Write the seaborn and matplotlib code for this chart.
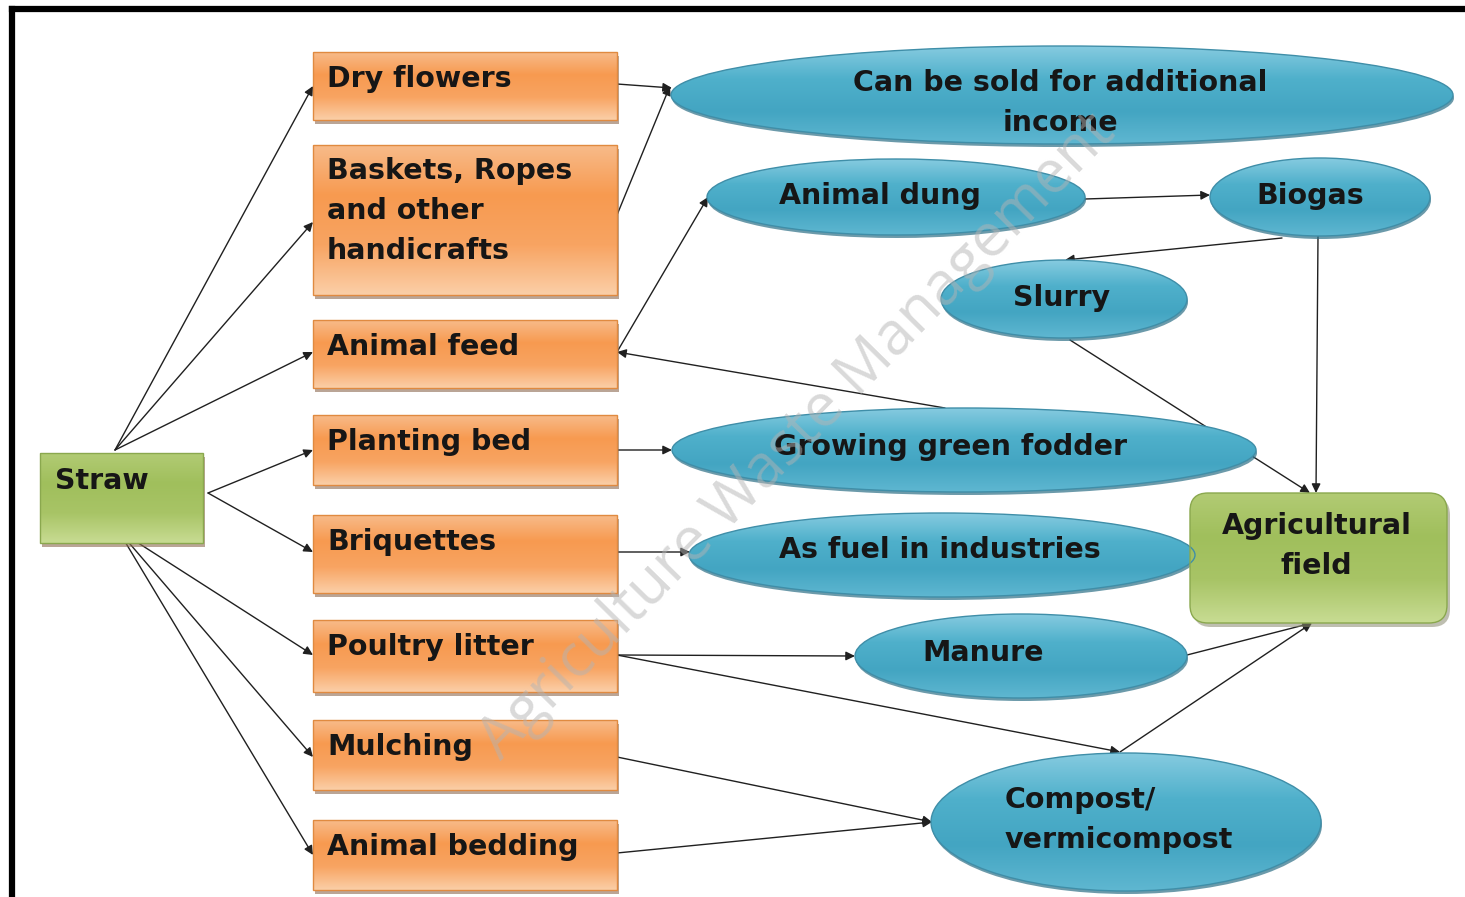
import numpy as np
import matplotlib
matplotlib.use("Agg")
import matplotlib.pyplot as plt
import seaborn as sns
from matplotlib.patches import Rectangle, Ellipse, FancyBboxPatch
from matplotlib.colors import LinearSegmentedColormap

sns.set_theme(style="white")
plt.rcParams['font.family'] = ['DejaVu Sans']

# ---------------- data ----------------
source_label = "Straw"
use_labels = ["Dry flowers", "Baskets, Ropes\nand other\nhandicrafts", "Animal feed",
              "Planting bed", "Briquettes", "Poultry litter", "Mulching", "Animal bedding"]
product_labels = ["Can be sold for additional\nincome", "Animal dung", "Biogas", "Slurry",
                  "Growing green fodder", "As fuel in industries", "Manure",
                  "Compost/\nvermicompost"]
sink_label = "Agricultural\nfield"
watermark = "Agriculture Waste Management"

# ---------------- layout (pixel space) ----------------
straw_box = (40, 453, 203, 543)
use_boxes = [(313, 52, 617, 120), (313, 145, 617, 295), (313, 320, 617, 388),
             (313, 415, 617, 485), (313, 515, 617, 593), (313, 620, 617, 692),
             (313, 720, 617, 790), (313, 820, 617, 890)]
ellipses = [(1062, 95, 782, 98), (896, 197, 378, 76), (1320, 197, 220, 78),
            (1064, 299, 246, 78), (964, 450, 584, 84), (942, 555, 506, 84),
            (1021, 656, 332, 84), (1126, 822, 390, 138)]
ell_text = [(1060, 103, 'center'), (880, 196, 'center'), (1310, 196, 'center'),
            (1062, 298, 'center'), (950, 447, 'center'), (940, 550, 'center'),
            (983, 653, 'center'), (1005, 820, 'left')]
agri_box = (1190, 493, 1447, 623)

edges = [
    ((115, 450), (313, 86)), ((115, 450), (313, 222)), ((115, 450), (313, 352)),
    ((208, 493), (313, 450)), ((208, 493), (313, 552)),
    ((118, 530), (313, 655)), ((118, 530), (313, 757)), ((118, 530), (313, 855)),
    ((617, 84), (672, 88)), ((617, 215), (670, 86)),
    ((617, 352), (708, 197)), ((945, 408), (617, 352)),
    ((1085, 199), (1210, 195)), ((1282, 238), (1065, 260)),
    ((1318, 236), (1316, 493)), ((1070, 340), (1310, 493)),
    ((617, 450), (672, 450)), ((617, 552), (690, 552)),
    ((617, 655), (855, 656)), ((617, 655), (1120, 752)),
    ((1187, 655), (1312, 623)), ((1120, 752), (1312, 623)),
    ((617, 757), (932, 822)), ((617, 853), (932, 822)),
]

W, H = 1465, 897
fig = plt.figure(figsize=(W / 100, H / 100), dpi=100)
ax = fig.add_axes([0, 0, 1, 1])
ax.axis('off')

orange = ['#f8bb8a', '#f79a50', '#f8a462', '#fbcfa8']
blue = ['#86cbe0', '#4fb0cb', '#43a5c2', '#5fb7d1']
green = ['#b2cb74', '#a0bf5c', '#a8c466', '#c8dc93']


def grad_patch(patch, colors, bbox, edge, z):
    x0, y0, x1, y1 = bbox
    cmap = LinearSegmentedColormap.from_list('g', colors)
    ax.add_patch(patch)
    patch.set_facecolor('none')
    patch.set_edgecolor(edge)
    patch.set_linewidth(1.0)
    patch.set_zorder(z + 0.2)
    img = ax.imshow(np.linspace(0, 1, 256).reshape(-1, 1), cmap=cmap, origin='upper',
                    extent=(x0, x1, y1, y0), aspect='auto', zorder=z, interpolation='bilinear')
    img.set_clip_path(patch)


def rect(b, colors, edge, z=2, rounded=False):
    x0, y0, x1, y1 = b
    if rounded:
        ax.add_patch(FancyBboxPatch((x0 + 3, y0 + 4), x1 - x0, y1 - y0,
                                    boxstyle="round,pad=0,rounding_size=18",
                                    facecolor='#8a8a70', edgecolor='none', alpha=0.55,
                                    zorder=z - 0.5))
        p = FancyBboxPatch((x0, y0), x1 - x0, y1 - y0, boxstyle="round,pad=0,rounding_size=18")
    else:
        ax.add_patch(Rectangle((x0 + 2, y0 + 4), x1 - x0, y1 - y0, facecolor='#8c6a50',
                               edgecolor='none', alpha=0.6, zorder=z - 0.5))
        p = Rectangle((x0, y0), x1 - x0, y1 - y0)
    grad_patch(p, colors, b, edge, z)


def ell(e, z=2):
    cx, cy, w, h = e
    ax.add_patch(Ellipse((cx + 1, cy + 3), w, h, facecolor='#2d6f86', edgecolor='none',
                         alpha=0.7, zorder=z - 0.5))
    p = Ellipse((cx, cy), w, h)
    grad_patch(p, blue, (cx - w / 2, cy - h / 2, cx + w / 2, cy + h / 2), '#3f8ea8', z)


FS = 20.5
LS = 1.55
txt_kw = dict(fontsize=FS, fontweight='bold', color='#161616', zorder=6)

# frame
ax.plot([12, 12], [H, 9], color='black', lw=4.5, solid_capstyle='projecting', zorder=1)
ax.plot([12, W], [9, 9], color='black', lw=4.5, solid_capstyle='projecting', zorder=1)

# edges
for (s, d) in edges:
    ax.annotate('', xy=d, xytext=s, zorder=1.5,
                arrowprops=dict(arrowstyle='-|>,head_length=0.45,head_width=0.22',
                                color='#202020', lw=1.0, shrinkA=0, shrinkB=0))

# straw
rect(straw_box, green, '#8aa84e', z=2)
ax.text(straw_box[0] + 15, straw_box[1] + 28, source_label, ha='left', va='center', **txt_kw)

# uses
for b, lab in zip(use_boxes, use_labels):
    rect(b, orange, '#e08a40', z=2)
    n = lab.count('\n')
    ax.text(b[0] + 14, b[1] + 27 + n * 19.5, lab, ha='left', va='center',
            linespacing=LS, **txt_kw)

# products
for e, (tx, ty, al), lab in zip(ellipses, ell_text, product_labels):
    ell(e, z=2)
    ax.text(tx, ty, lab, ha=al, va='center', multialignment=al, linespacing=LS, **txt_kw)

# agricultural field
rect(agri_box, green, '#8aa84e', z=2, rounded=True)
ax.text((agri_box[0] + agri_box[2]) / 2 - 2, 546, sink_label, ha='center', va='center',
        linespacing=LS, **txt_kw)

# watermark
ax.text(798, 437, watermark, rotation=45.5, ha='center', va='center', fontsize=43,
        color='#b4b4b4', alpha=0.5, zorder=7, fontweight='normal',
        family=['Open Sans', 'DejaVu Sans'])

ax.set_xlim(0, W)
ax.set_ylim(H, 0)
fig.savefig('out.png', dpi=100, facecolor='white')
